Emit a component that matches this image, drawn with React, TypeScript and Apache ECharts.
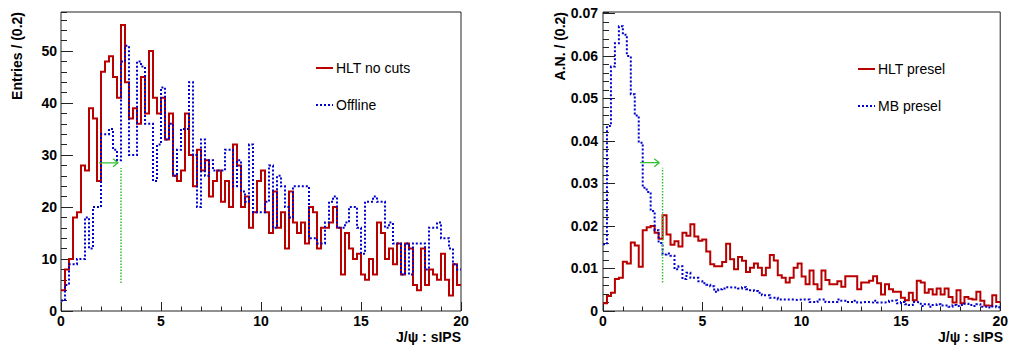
import React, { useEffect, useRef } from "react";
import * as echarts from "echarts";

// ---------- data (bin width 0.2, range 0..20, 100 bins) ----------
const BIN_WIDTH = 0.2;
const X_MIN = 0;
const X_MAX = 20;

const leftHLTNoCuts = [
  4, 8, 10, 18, 19, 28, 27, 39, 37, 25,
  46, 48, 49, 45, 41, 55, 44, 37, 39, 36,
  45, 38, 50, 41, 38, 41, 33, 38, 26, 25,
  27, 38, 30, 24, 31, 27, 29, 22, 25, 27,
  21, 25, 20, 32, 28, 20, 22, 16, 19, 25,
  27, 19, 15, 23, 16, 19, 12, 23, 17, 15,
  17, 13, 20, 19, 12, 16, 16, 17, 20, 16,
  7, 15, 12, 10, 11, 7, 6, 10, 7, 17,
  15, 10, 12, 9, 13, 7, 13, 12, 5, 4,
  12, 5, 8, 7, 6, 11, 6, 3, 9, 5,
];

const leftOffline = [
  2, 5, 9, 9, 10, 10, 18, 12, 20, 20,
  34, 34, 35, 31, 29, 48, 51, 30, 30, 48,
  47, 36, 36, 25, 32, 43, 33, 36, 26, 31,
  35, 35, 44, 30, 20, 33, 26, 29, 27, 27,
  27, 31, 31, 24, 29, 23, 21, 32, 19, 19,
  19, 21, 28, 16, 26, 24, 20, 18, 24, 24,
  24, 24, 14, 14, 13, 13, 17, 21, 22, 16,
  16, 17, 20, 20, 16, 11, 21, 21, 22, 21,
  21, 16, 17, 13, 13, 7, 13, 7, 13, 13,
  13, 8, 16, 16, 17, 14, 14, 12, 9, 8,
];

const rightHLTPresel = [
  0.0018, 0.0035, 0.0043, 0.0075, 0.0078, 0.0116, 0.0112, 0.0161, 0.0154, 0.0104,
  0.0190, 0.0197, 0.0200, 0.0184, 0.0170, 0.0225, 0.0180, 0.0156, 0.0164, 0.0152,
  0.0184, 0.0177, 0.0204, 0.0175, 0.0165, 0.0168, 0.0140, 0.0110, 0.0105, 0.0105,
  0.0115, 0.0158, 0.0122, 0.0098, 0.0127, 0.0118, 0.0092, 0.0102, 0.0112, 0.0102,
  0.0084, 0.0102, 0.0132, 0.0119, 0.0084, 0.0078, 0.0067, 0.0078, 0.0102, 0.0112,
  0.0081, 0.0063, 0.0095, 0.0063, 0.0051, 0.0095, 0.0073, 0.0063, 0.0063, 0.0070,
  0.0057, 0.0082, 0.0082, 0.0082, 0.0051, 0.0067, 0.0067, 0.0071, 0.0082, 0.0065,
  0.0039, 0.0063, 0.0051, 0.0045, 0.0045, 0.0031, 0.0025, 0.0043, 0.0025, 0.0071,
  0.0067, 0.0043, 0.0051, 0.0039, 0.0053, 0.0039, 0.0053, 0.0033, 0.0020, 0.0049,
  0.0018, 0.0033, 0.0029, 0.0027, 0.0045, 0.0024, 0.0013, 0.0012, 0.0037, 0.0021,
];

const rightMBPresel = [
  0.0157, 0.0435, 0.0575, 0.0630, 0.0670, 0.0650, 0.0600, 0.0510, 0.0460, 0.0396,
  0.0290, 0.0280, 0.0235, 0.0190, 0.0160, 0.0133, 0.0135, 0.0130, 0.0098, 0.0105,
  0.0075, 0.0090, 0.0078, 0.0078, 0.0070, 0.0065, 0.0062, 0.0058, 0.0045, 0.0051,
  0.0053, 0.0056, 0.0055, 0.0055, 0.0053, 0.0056, 0.0051, 0.0049, 0.0047, 0.0043,
  0.0037, 0.0037, 0.0031, 0.0031, 0.0027, 0.0027, 0.0027, 0.0027, 0.0026, 0.0027,
  0.0027, 0.0027, 0.0021, 0.0021, 0.0027, 0.0027, 0.0021, 0.0021, 0.0021, 0.0027,
  0.0024, 0.0021, 0.0021, 0.0024, 0.0020, 0.0021, 0.0021, 0.0020, 0.0024, 0.0020,
  0.0020, 0.0021, 0.0024, 0.0025, 0.0018, 0.0021, 0.0016, 0.0014, 0.0021, 0.0020,
  0.0012, 0.0016, 0.0010, 0.0014, 0.0016, 0.0013, 0.0013, 0.0010, 0.0014, 0.0012,
  0.0014, 0.0017, 0.0014, 0.0012, 0.0016, 0.0010, 0.0010, 0.0008, 0.0011, 0.0009,
];

// cut annotation (sIPS > 3)
const CUT_X = 3;
const leftCutRange = [5.4, 27.5];
const leftArrow = { y: 28.5, from: 1.9, to: 2.85, headLen: 0.25, headHalf: 0.77 };
const rightCutRange = [0.0067, 0.0337];
const rightArrow = { y: 0.0349, from: 1.87, to: 2.83, headLen: 0.25, headHalf: 0.00094 };

const leftYMax = 57.5;
const rightYMax = 0.07035;

const RED = "#b80000";
const BLUE = "#0000cc";
const GREEN = "#33c033";
const FONT = "'Liberation Sans', Arial, Helvetica, sans-serif";

function toSteps(values: number[]) {
  const pts: number[][] = values.map((v, i) => [+(X_MIN + i * BIN_WIDTH).toFixed(3), v]);
  pts.push([+(X_MIN + values.length * BIN_WIDTH).toFixed(3), values[values.length - 1]]);
  return pts;
}

const labelStyle = {
  fontFamily: FONT,
  fontWeight: "bold" as const,
  fontSize: 14,
  color: "#000",
};

function makeXAxes(gridIndex: number) {
  return [
    {
      type: "value", gridIndex, min: X_MIN, max: X_MAX, interval: 5, position: "bottom",
      axisLine: { show: false, onZero: false },
      splitLine: { show: false },
      axisTick: { show: true, inside: true, length: 9, lineStyle: { color: "#222", width: 1 } },
      axisLabel: { ...labelStyle, margin: 3 },
    },
    {
      type: "value", gridIndex, min: X_MIN, max: X_MAX, interval: 1, position: "bottom",
      axisLine: { show: false, onZero: false },
      splitLine: { show: false },
      axisTick: { show: true, inside: true, length: 4.5, lineStyle: { color: "#222", width: 1 } },
      axisLabel: { show: false },
    },
  ];
}

function makeYAxes(gridIndex: number, max: number, interval: number, minor: number, margin: number) {
  return [
    {
      type: "value", gridIndex, min: 0, max, interval, position: "left",
      axisLine: { show: false, onZero: false },
      splitLine: { show: false },
      axisTick: { show: true, inside: true, length: 12, lineStyle: { color: "#222", width: 1 } },
      axisLabel: { ...labelStyle, margin, showMaxLabel: false },
    },
    {
      type: "value", gridIndex, min: 0, max, interval: minor, position: "left",
      axisLine: { show: false, onZero: false },
      splitLine: { show: false },
      axisTick: { show: true, inside: true, length: 6, lineStyle: { color: "#222", width: 1 } },
      axisLabel: { show: false },
    },
  ];
}

function histSeries(name: string, values: number[], color: string, dotted: boolean, xi: number, yi: number, z: number) {
  return {
    name, type: "line", xAxisIndex: xi, yAxisIndex: yi, step: "end",
    data: toSteps(values), symbol: "none", showSymbol: false, silent: true, z,
    itemStyle: { color },
    lineStyle: { color, width: 2, type: dotted ? [2, 2] : "solid", join: "miter" },
  };
}

function greenSeries(data: number[][], xi: number, yi: number, dotted: boolean) {
  return {
    type: "line", xAxisIndex: xi, yAxisIndex: yi, data, symbol: "none", showSymbol: false,
    silent: true, z: 5,
    lineStyle: { color: GREEN, width: dotted ? 1.5 : 1.3, type: dotted ? [1.5, 1.5] : "solid" },
  };
}

function arrowSeries(a: { y: number; from: number; to: number; headLen: number; headHalf: number }, xi: number, yi: number) {
  return [
    greenSeries([[a.from, a.y], [a.to, a.y]], xi, yi, false),
    greenSeries([[a.to - a.headLen, a.y + a.headHalf], [a.to, a.y], [a.to - a.headLen, a.y - a.headHalf]], xi, yi, false),
  ];
}

const legendCommon = {
  orient: "vertical",
  padding: 0,
  itemGap: 23,
  itemWidth: 17,
  itemHeight: 14,
  selectedMode: false,
  itemStyle: { color: "rgba(0,0,0,0)", borderWidth: 0, opacity: 0 },
  textStyle: { fontFamily: FONT, fontSize: 14, color: "#000", padding: [0, 0, 0, -2] },
};

export default function App() {
  const ref = useRef<HTMLDivElement>(null);

  useEffect(() => {
    if (!ref.current) return;
    const chart = echarts.init(ref.current, undefined, { renderer: "svg" });
    const gridCommon = { show: true, borderColor: "#222", borderWidth: 1, backgroundColor: "transparent" };
    const option: any = {
      animation: false,
      backgroundColor: "#fff",
      grid: [
        { ...gridCommon, left: 61, top: 12, width: 400, height: 299 },
        { ...gridCommon, left: 603, top: 12, width: 400, height: 299 },
      ],
      xAxis: [...makeXAxes(0), ...makeXAxes(1)],
      yAxis: [
        ...makeYAxes(0, leftYMax, 10, 2, 4),
        ...makeYAxes(1, rightYMax, 0.01, 0.002, 5),
      ],
      legend: [
        { ...legendCommon, data: ["HLT no cuts", "Offline"], left: 315, top: 61 },
        { ...legendCommon, data: ["HLT presel", "MB presel"], left: 857, top: 62 },
      ],
      series: [
        histSeries("HLT no cuts", leftHLTNoCuts, RED, false, 0, 0, 2),
        histSeries("Offline", leftOffline, BLUE, true, 0, 0, 3),
        greenSeries([[CUT_X, leftCutRange[0]], [CUT_X, leftCutRange[1]]], 0, 0, true),
        ...arrowSeries(leftArrow, 0, 0),
        histSeries("HLT presel", rightHLTPresel, RED, false, 2, 2, 2),
        histSeries("MB presel", rightMBPresel, BLUE, true, 2, 2, 3),
        greenSeries([[CUT_X, rightCutRange[0]], [CUT_X, rightCutRange[1]]], 2, 2, true),
        ...arrowSeries(rightArrow, 2, 2),
      ],
      graphic: [
        {
          type: "text", x: 17, y: 12, rotation: Math.PI / 2,
          style: { text: "Entries / (0.2)", fontFamily: FONT, fontWeight: "bold", fontSize: 14, fill: "#000", align: "right", verticalAlign: "middle" },
        },
        {
          type: "text", x: 560, y: 12, rotation: Math.PI / 2,
          style: { text: "A.N. / (0.2)", fontFamily: FONT, fontWeight: "bold", fontSize: 14, fill: "#000", align: "right", verticalAlign: "middle" },
        },
        {
          type: "text", x: 461, y: 337,
          style: { text: "J/ψ : sIPS", fontFamily: FONT, fontWeight: "bold", fontSize: 14, fill: "#000", align: "right", verticalAlign: "middle" },
        },
        {
          type: "text", x: 1003, y: 337,
          style: { text: "J/ψ : sIPS", fontFamily: FONT, fontWeight: "bold", fontSize: 14, fill: "#000", align: "right", verticalAlign: "middle" },
        },
      ],
    };
    chart.setOption(option);
    return () => chart.dispose();
  }, []);

  return (
    <div
      ref={ref}
      style={{ position: "absolute", left: 0, top: 0, width: 1011, height: 347, background: "#fff" }}
    />
  );
}
